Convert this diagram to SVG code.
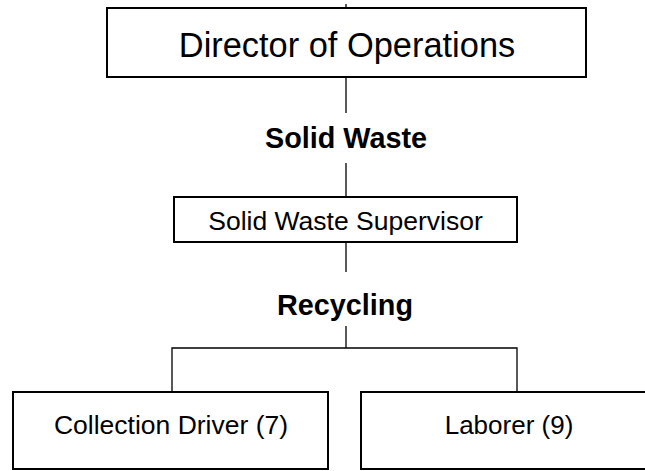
<svg xmlns="http://www.w3.org/2000/svg" width="645" height="471" viewBox="0 0 645 471">
  <style>
    .box { fill: #ffffff; stroke: #000000; stroke-width: 2; }
    .link { fill: none; stroke: #000000; stroke-width: 1.3; }
    .t { font-family: "Liberation Sans", Arial, sans-serif; fill: #000000; text-anchor: middle; }
    .head { font-weight: bold; font-size: 28.8px; }
  </style>
  <rect width="645" height="471" fill="#ffffff"/>

  <!-- connectors -->
  <g id="connectors">
    <line class="link" x1="346" y1="4" x2="346" y2="8"/>
    <line class="link" x1="346" y1="77" x2="346" y2="113"/>
    <line class="link" x1="346" y1="163" x2="346" y2="197"/>
    <line class="link" x1="346" y1="242" x2="346" y2="272"/>
    <line class="link" x1="346" y1="326" x2="346" y2="348"/>
    <polyline class="link" points="172,392 172,348 517,348 517,392"/>
  </g>

  <!-- section headings -->
  <text class="t head" x="346" y="148">Solid Waste</text>
  <text class="t head" x="345" y="315">Recycling</text>

  <g id="director">
    <rect class="box" x="107" y="8" width="479" height="69"/>
    <text class="t" x="347" y="57" font-size="34.4">Director of Operations</text>
  </g>

  <g id="supervisor">
    <rect class="box" x="174" y="197" width="343" height="45"/>
    <text class="t" x="345.5" y="230" font-size="26.5">Solid Waste Supervisor</text>
  </g>

  <g id="driver">
    <rect class="box" x="13" y="392" width="315" height="77"/>
    <text class="t" x="171" y="434" font-size="26.5">Collection Driver (7)</text>
  </g>

  <g id="laborer">
    <rect class="box" x="361" y="392" width="296" height="77"/>
    <text class="t" x="509" y="434" font-size="26">Laborer (9)</text>
  </g>
</svg>
